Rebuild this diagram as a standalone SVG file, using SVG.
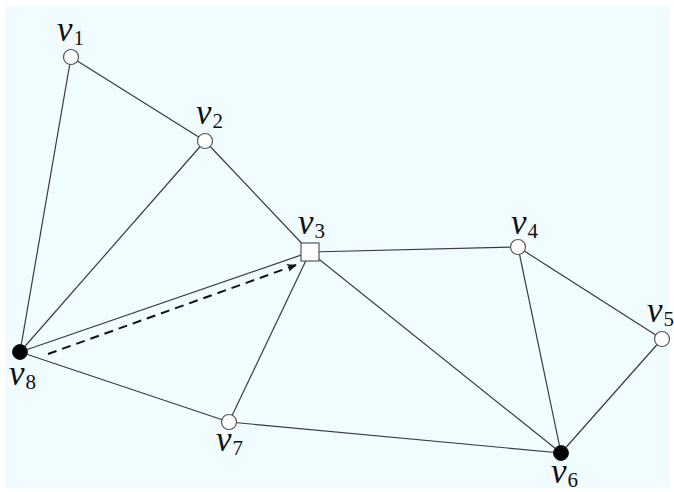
<svg xmlns="http://www.w3.org/2000/svg" width="674" height="492" viewBox="0 0 674 492">
<defs>
<style>
.e{stroke:#3a3a3a;stroke-width:1.2;fill:none}
.n{fill:#fff;stroke:#555;stroke-width:1.2}
.f{fill:#000;stroke:#222;stroke-width:1}
</style>
<marker id="ah" viewBox="0 0 10 10" refX="9" refY="5" markerWidth="5" markerHeight="5" orient="auto" markerUnits="strokeWidth">
<path d="M0,1 L10,5 L0,9 L2,5 Z" fill="#111"/>
</marker>
</defs>
<rect x="0" y="0" width="674" height="492" fill="#fff"/>
<rect x="5" y="6" width="664" height="482" fill="#f0fcff"/>
<g id="edges">
<line class="e" x1="71" y1="57" x2="205" y2="141"/>
<line class="e" x1="71" y1="57" x2="20" y2="352"/>
<line class="e" x1="205" y1="141" x2="20" y2="352"/>
<line class="e" x1="205" y1="141" x2="310" y2="252"/>
<line class="e" x1="310" y1="252" x2="518" y2="247"/>
<line class="e" x1="310" y1="252" x2="20" y2="352"/>
<line class="e" x1="310" y1="252" x2="229" y2="422"/>
<line class="e" x1="310" y1="252" x2="561" y2="453"/>
<line class="e" x1="518" y1="247" x2="561" y2="453"/>
<line class="e" x1="518" y1="247" x2="662" y2="339"/>
<line class="e" x1="662" y1="339" x2="561" y2="453"/>
<line class="e" x1="229" y1="422" x2="561" y2="453"/>
<line class="e" x1="20" y1="352" x2="229" y2="422"/>
<line x1="48" y1="354" x2="296" y2="265" stroke="#111" stroke-width="2" stroke-dasharray="9,6" marker-end="url(#ah)"/>
</g>
<g id="v1"><circle class="n" cx="71" cy="57" r="7.5"/><text x="57" y="41" font-family="Liberation Serif" font-size="35" font-style="italic" fill="#111">v<tspan font-family="Liberation Serif" font-size="21" font-style="normal" dy="4" dx="1">1</tspan></text></g>
<g id="v2"><circle class="n" cx="205" cy="141" r="7.5"/><text x="196" y="124" font-family="Liberation Serif" font-size="35" font-style="italic" fill="#111">v<tspan font-family="Liberation Serif" font-size="21" font-style="normal" dy="4" dx="1">2</tspan></text></g>
<g id="v3"><rect class="n" x="301" y="243" width="18" height="18"/><text x="298" y="234" font-family="Liberation Serif" font-size="35" font-style="italic" fill="#111">v<tspan font-family="Liberation Serif" font-size="21" font-style="normal" dy="4" dx="1">3</tspan></text></g>
<g id="v4"><circle class="n" cx="518" cy="247" r="7.5"/><text x="511" y="234" font-family="Liberation Serif" font-size="35" font-style="italic" fill="#111">v<tspan font-family="Liberation Serif" font-size="21" font-style="normal" dy="4" dx="1">4</tspan></text></g>
<g id="v5"><circle class="n" cx="662" cy="339" r="7.5"/><text x="647" y="322" font-family="Liberation Serif" font-size="35" font-style="italic" fill="#111">v<tspan font-family="Liberation Serif" font-size="21" font-style="normal" dy="4" dx="1">5</tspan></text></g>
<g id="v6"><circle class="f" cx="561" cy="453" r="7.5"/><text x="551" y="483" font-family="Liberation Serif" font-size="35" font-style="italic" fill="#111">v<tspan font-family="Liberation Serif" font-size="21" font-style="normal" dy="4" dx="1">6</tspan></text></g>
<g id="v7"><circle class="n" cx="229" cy="422" r="7.5"/><text x="216" y="451" font-family="Liberation Serif" font-size="35" font-style="italic" fill="#111">v<tspan font-family="Liberation Serif" font-size="21" font-style="normal" dy="4" dx="1">7</tspan></text></g>
<g id="v8"><circle class="f" cx="20" cy="352" r="7.5"/><text x="9" y="385" font-family="Liberation Serif" font-size="35" font-style="italic" fill="#111">v<tspan font-family="Liberation Serif" font-size="21" font-style="normal" dy="4" dx="1">8</tspan></text></g>
</svg>
